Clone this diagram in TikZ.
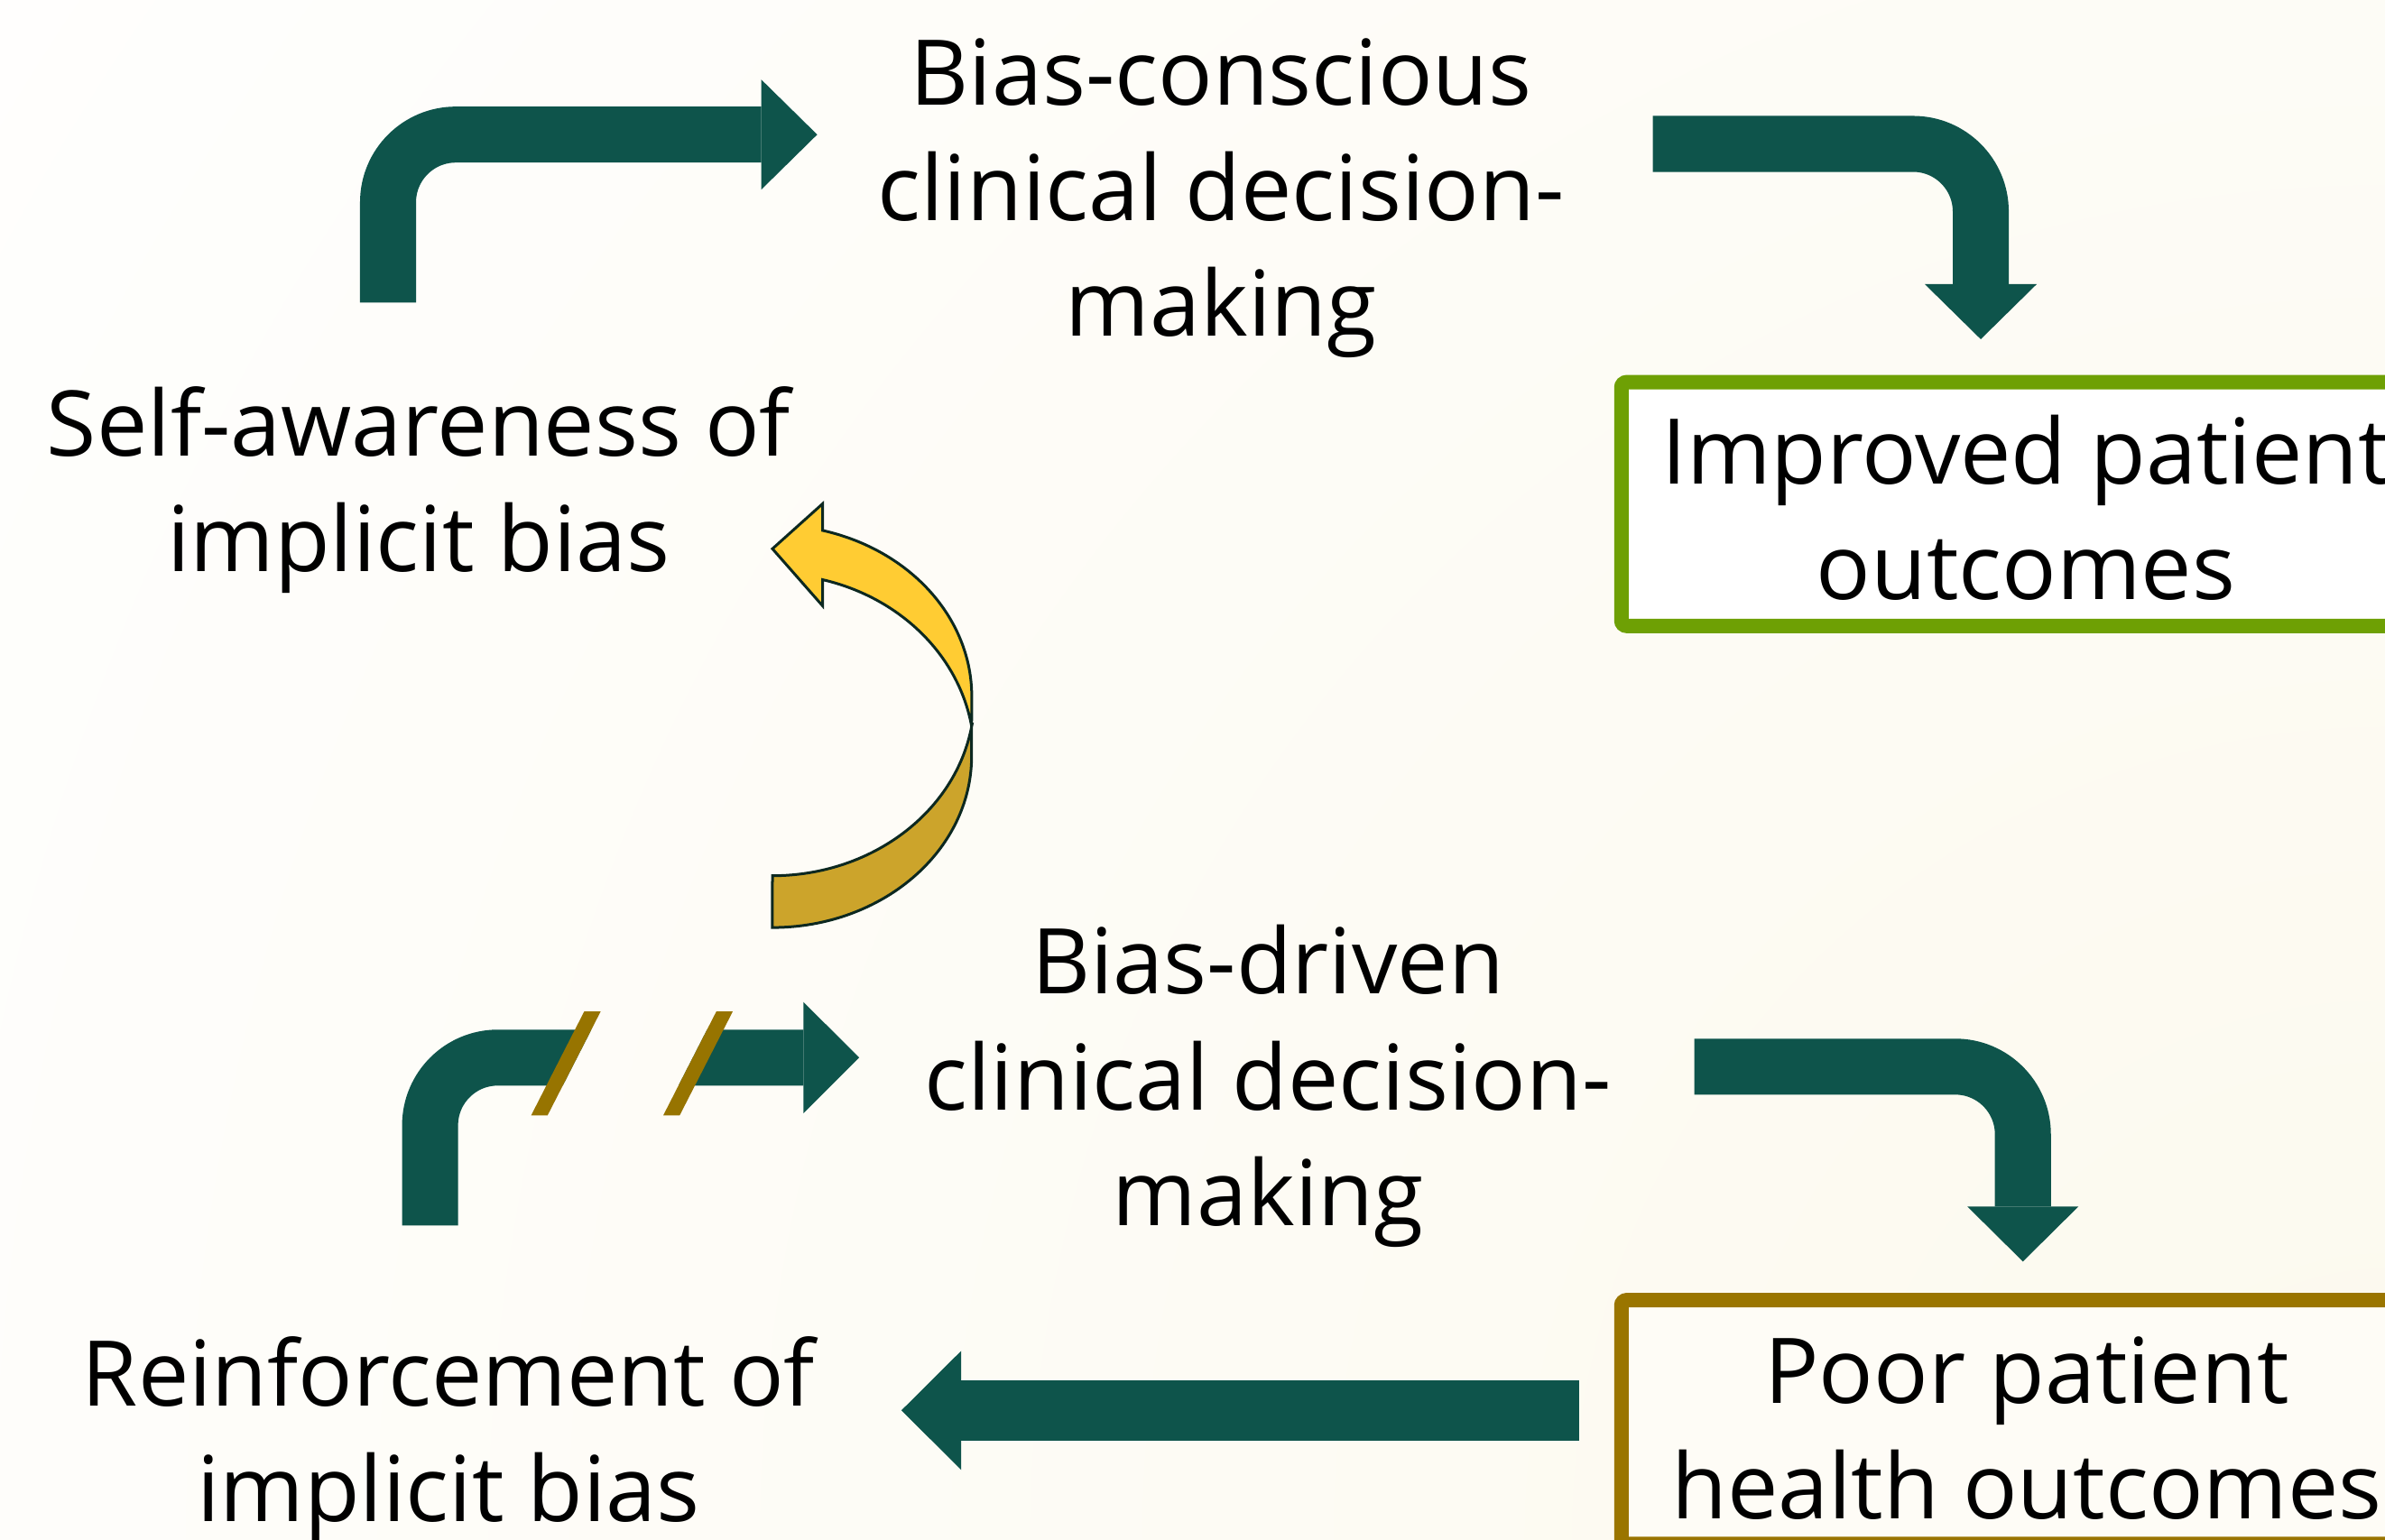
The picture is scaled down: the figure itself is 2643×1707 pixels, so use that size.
\documentclass[tikz,border=0pt]{standalone}
\usepackage{fontspec}
\setmainfont{Open Sans}
\usepackage{xcolor}
\usepackage{tikz}
\usetikzlibrary{positioning}

\definecolor{loopgreen}{RGB}{14,84,75}
\definecolor{slashgold}{RGB}{151,116,0}
\definecolor{goodgreen}{RGB}{110,160,4}
\definecolor{poorgold}{RGB}{154,117,0}
\definecolor{curllight}{RGB}{255,204,51}
\definecolor{curldark}{RGB}{204,164,43}
\definecolor{curlline}{RGB}{12,40,32}
\definecolor{bgcream}{RGB}{252,249,238}
\definecolor{boxcream}{RGB}{254,252,246}

\tikzset{
  txt/.style={font=\fontsize{28.6}{36.4}\selectfont, align=center, anchor=base, inner sep=0pt},
  bent/.style={loopgreen, line width=0.62cm, rounded corners=0.75cm},
  outcomebox/.style={draw, line width=0.16cm, rounded corners=0.06cm, minimum width=8.96cm, minimum height=2.70cm, inner sep=0pt},
}

\begin{document}
\begin{tikzpicture}[x=0.01cm,y=-0.01cm]
\useasboundingbox (0,0) rectangle (2643,1707);
% background fades to cream towards the lower right
\begin{scope}
\clip (0,0) rectangle (2643,1707);
\fill[white] (0,0) rectangle (2643,1707);
\shade[inner color=bgcream, outer color=white] (2643,1707) circle[radius=36cm];
\end{scope}

% outcome boxes
\node[outcomebox, draw=goodgreen, fill=white] (improvedbox) at (2245,558.7) {};
\node[outcomebox, draw=poorgold, fill=boxcream] (poorbox) at (2245,1576.2) {};

% labels (anchored on the last baseline)
\node[txt] (conscious) at (1353,373) {Bias-conscious\\clinical decision-\\making};
\node[txt] (selfaware) at (464,634) {Self-awareness of\\implicit bias};
\node[txt] (improved) at (2245,665) {Improved patient\\outcomes};
\node[txt] (driven) at (1405,1358) {Bias-driven\\clinical decision-\\making};
\node[txt] (poor) at (2246,1683.3) {Poor patient\\health outcomes};
\node[txt] (reinforce) at (497,1686) {Reinforcement of\\implicit bias};

% upper loop
\coordinate (up1s) at (430,335.3);
\coordinate (up1e) at (843.6,149.2);
\draw[bent] (up1s) |- (up1e);
\fill[loopgreen] (up1e) ++(0,-61) -- ++(62,61) -- ++(-62,61) -- cycle;

\coordinate (up2s) at (1831.7,159.5);
\coordinate (up2e) at (2195,315);
\draw[bent] (up2s) -| (up2e);
\fill[loopgreen] (up2e) ++(-62,0) -- ++(124,0) -- ++(-62,61) -- cycle;

% lower loop, first arrow is broken
\coordinate (lo1s) at (476.6,1358.3);
\coordinate (lo1e) at (890.4,1172.3);
\begin{scope}
\clip (0,1000) -- (727.5,1000) -- (523.2,1400) -- (0,1400) -- cycle
      (855.7,1000) -- (1100,1000) -- (1100,1400) -- (651.4,1400) -- cycle;
\draw[bent] (lo1s) |- (lo1e);
\end{scope}
\fill[loopgreen] (lo1e) ++(0,-61.6) -- ++(61.7,61.6) -- ++(-61.7,61.6) -- cycle;
\foreach \dx in {0,146.4}{
  \fill[slashgold] (588.6+\dx,1236.3) -- (606.8+\dx,1236.3) -- (665.7+\dx,1121) -- (647.5+\dx,1121) -- cycle;
}

\coordinate (lo2s) at (1877.7,1182.3);
\coordinate (lo2e) at (2241.7,1337.3);
\draw[bent] (lo2s) -| (lo2e);
\fill[loopgreen] (lo2e) ++(-61.6,0) -- ++(123.2,0) -- ++(-61.6,61) -- cycle;

\coordinate (lo3s) at (1750,1563.3);
\coordinate (lo3e) at (1065.2,1563.3);
\draw[loopgreen, line width=0.667cm] (lo3s) -- (lo3e);
\fill[loopgreen] (lo3e) ++(0,-66) -- ++(-66.3,66) -- ++(66.3,66) -- cycle;

% curled arrow back up to self-awareness
\filldraw[fill=curldark, draw=curlline, line width=0.03cm]
  (1076.7,805) -- (1076.7,838)
  arc[start angle=0, end angle=-90, x radius=2.207cm, y radius=1.90cm]
  -- (856,970.7)
  arc[start angle=-90, end angle=-9.56, x radius=2.238cm, y radius=1.987cm]
  -- cycle;
\filldraw[fill=curllight, draw=curlline, line width=0.03cm]
  (856,608.3) -- (911.7,558.3) -- (911.7,588)
  arc[start angle=75.4, end angle=0, x radius=2.207cm, y radius=1.90cm]
  -- (1076.7,805)
  arc[start angle=9.39, end angle=75.58, x radius=2.237cm, y radius=2.016cm]
  -- (911.7,671.7) -- cycle;
\end{tikzpicture}
\end{document}
